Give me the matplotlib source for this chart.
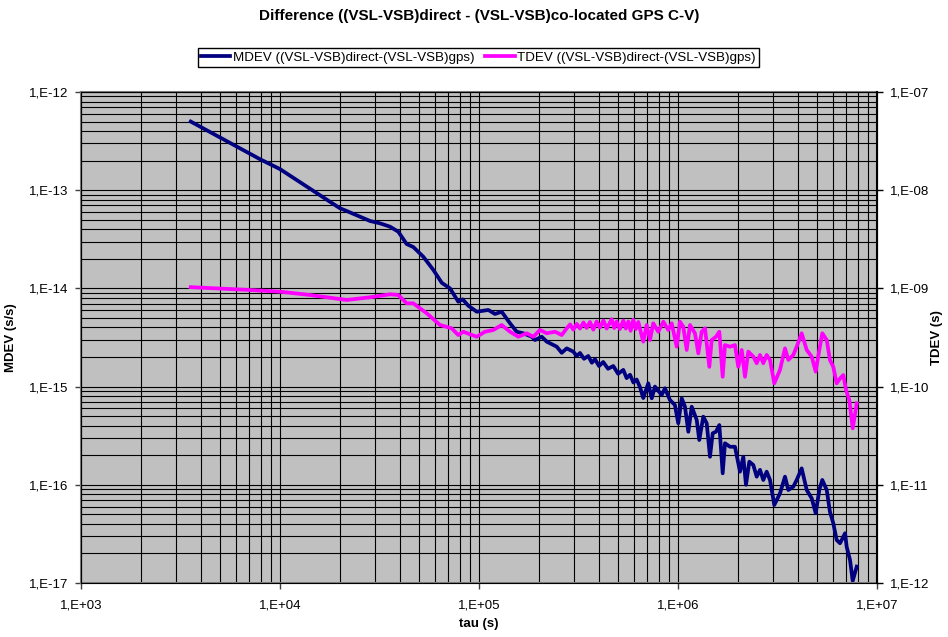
import numpy as np
import matplotlib
matplotlib.use("Agg")
import matplotlib.pyplot as plt
from matplotlib.ticker import LogLocator, FuncFormatter, NullFormatter
from matplotlib.lines import Line2D

plt.rcParams['font.family'] = ['Liberation Sans', 'DejaVu Sans']

# MDEV of the difference (tau in s, MDEV in s/s)
mdev_tau = [3560, 7930, 1.0e4, 2.0e4, 2.163e4, 2.834e4, 3.18e4, 3.572e4, 3.93e4, 4.33e4,
            4.675e4, 5.25e4, 5.90e4, 6.50e4, 7.15e4, 7.87e4, 8.28e4, 8.84e4, 9.74e4, 1.114e5,
            1.203e5, 1.30e5, 1.432e5, 1.547e5, 1.67e5, 1.84e5, 1.912e5, 2.066e5, 2.189e5, 2.458e5,
            2.604e5, 2.759e5, 2.978e5, 3.10e5, 3.217e5, 3.37e5, 3.54e5, 3.69e5, 3.827e5, 4.01e5,
            4.21e5, 4.45e5, 4.73e5, 5.00e5, 5.31e5, 5.52e5, 5.74e5, 5.97e5, 6.20e5, 6.45e5,
            6.69e5, 7.09e5, 7.38e5, 7.66e5, 8.28e5, 8.60e5, 9.11e5, 9.65e5, 1.003e6,
            1.044e6, 1.084e6, 1.127e6, 1.172e6, 1.242e6, 1.279e6, 1.340e6, 1.394e6, 1.448e6, 1.494e6,
            1.552e6, 1.613e6, 1.677e6, 1.722e6, 1.825e6, 1.933e6, 2.049e6, 2.129e6, 2.196e6, 2.282e6,
            2.39e6, 2.486e6, 2.583e6, 2.683e6, 2.79e6, 2.90e6, 3.047e6, 3.255e6, 3.449e6, 3.584e6,
            3.797e6, 3.949e6, 4.183e6, 4.434e6, 4.697e6, 4.92e6, 5.13e6, 5.31e6, 5.59e6, 5.80e6,
            6.03e6, 6.27e6, 6.52e6, 6.91e6, 7.04e6, 7.32e6, 7.55e6, 7.91e6]
mdev = [5.0e-13, 2.07e-13, 1.64e-13, 6.55e-14, 6.14e-14, 4.86e-14, 4.60e-14, 4.25e-14, 3.78e-14, 2.83e-14,
        2.64e-14, 2.10e-14, 1.54e-14, 1.14e-14, 1.0e-14, 7.32e-15, 7.74e-15, 6.66e-15, 5.79e-15, 6.03e-15,
        5.49e-15, 5.79e-15, 4.41e-15, 3.62e-15, 3.49e-15, 3.22e-15, 2.98e-15, 3.22e-15, 2.87e-15, 2.55e-15,
        2.21e-15, 2.45e-15, 2.27e-15, 2.05e-15, 2.20e-15, 1.92e-15, 2.05e-15, 1.75e-15, 1.90e-15, 1.62e-15,
        1.78e-15, 1.52e-15, 1.62e-15, 1.35e-15, 1.48e-15, 1.22e-15, 1.32e-15, 1.10e-15, 1.18e-15, 9.8e-16,
        7.65e-16, 1.08e-15, 7.60e-16, 1.0e-15, 8.21e-16, 9.61e-16, 7.30e-16, 6.50e-16, 4.23e-16,
        7.60e-16, 6.24e-16, 3.47e-16, 6.24e-16, 4.57e-16, 2.86e-16, 4.94e-16, 4.23e-16, 1.93e-16, 3.35e-16,
        3.47e-16, 4.06e-16, 1.31e-16, 2.65e-16, 2.44e-16, 2.44e-16, 1.36e-16, 1.93e-16, 1.0e-16, 1.72e-16,
        1.59e-16, 1.21e-16, 1.42e-16, 1.12e-16, 1.36e-16, 1.12e-16, 6.23e-17, 8.19e-17, 1.21e-16, 8.85e-17,
        9.57e-17, 1.12e-16, 1.47e-16, 8.85e-17, 7.29e-17, 5.13e-17, 8.85e-17, 1.12e-16, 8.85e-17, 5.32e-17,
        4.06e-17, 2.74e-17, 2.54e-17, 3.21e-17, 2.34e-17, 1.71e-17, 1.05e-17, 1.47e-17]

# TDEV of the difference (tau in s, TDEV in s)
tdev_tau = [3560, 7070, 1.0e4, 1.415e4, 2.163e4, 2.834e4, 3.572e4, 3.93e4, 4.33e4, 4.675e4,
            5.46e4, 6.37e4, 7.29e4, 7.87e4, 8.34e4, 8.94e4, 9.74e4, 1.072e5, 1.180e5, 1.30e5,
            1.432e5, 1.576e5, 1.737e5, 1.874e5, 2.026e5, 2.189e5, 2.41e5, 2.604e5, 2.759e5, 2.87e5,
            2.978e5, 3.10e5, 3.217e5, 3.35e5, 3.476e5, 3.61e5, 3.753e5, 3.90e5, 4.055e5, 4.22e5,
            4.383e5, 4.643e5, 4.78e5, 4.92e5, 5.10e5, 5.31e5, 5.47e5, 5.63e5, 5.78e5, 5.96e5,
            6.14e5, 6.32e5, 6.50e5, 6.69e5, 6.96e5, 7.23e5, 7.51e5, 7.96e5, 8.44e5, 8.94e5,
            9.30e5, 9.85e5, 1.023e6, 1.063e6, 1.106e6, 1.149e6, 1.217e6, 1.265e6, 1.315e6, 1.367e6,
            1.437e6, 1.477e6, 1.552e6, 1.613e6, 1.677e6, 1.722e6, 1.825e6, 1.933e6, 2.009e6, 2.09e6,
            2.171e6, 2.256e6, 2.39e6, 2.486e6, 2.583e6, 2.683e6, 2.79e6, 2.90e6, 3.047e6, 3.255e6,
            3.449e6, 3.584e6, 3.797e6, 3.949e6, 4.183e6, 4.434e6, 4.697e6, 4.92e6, 5.13e6, 5.31e6,
            5.59e6, 5.80e6, 6.03e6, 6.27e6, 6.52e6, 6.77e6, 6.99e6, 7.26e6, 7.55e6, 7.91e6]
tdev = [1.03e-9, 9.63e-10, 9.26e-10, 8.57e-10, 7.62e-10, 8.12e-10, 8.71e-10, 8.57e-10, 7.05e-10, 7.05e-10,
        5.58e-10, 4.24e-10, 3.92e-10, 3.35e-10, 3.62e-10, 3.43e-10, 3.22e-10, 3.62e-10, 3.77e-10, 4.24e-10,
        3.62e-10, 3.22e-10, 3.49e-10, 3.22e-10, 3.77e-10, 3.49e-10, 3.62e-10, 3.35e-10, 3.92e-10, 4.30e-10,
        3.80e-10, 4.35e-10, 3.90e-10, 4.50e-10, 3.95e-10, 4.55e-10, 3.80e-10, 4.60e-10, 4.00e-10, 4.70e-10,
        3.90e-10, 4.85e-10, 3.95e-10, 4.60e-10, 3.85e-10, 4.70e-10, 3.90e-10, 4.60e-10, 3.70e-10, 4.80e-10,
        3.85e-10, 4.55e-10, 3.60e-10, 2.87e-10, 4.24e-10, 2.98e-10, 4.41e-10, 3.62e-10, 4.58e-10, 3.77e-10,
        4.41e-10, 2.55e-10, 4.58e-10, 4.07e-10, 2.36e-10, 4.24e-10, 3.49e-10, 2.18e-10, 3.62e-10, 3.92e-10,
        1.59e-10, 2.98e-10, 3.22e-10, 3.62e-10, 1.26e-10, 2.65e-10, 2.55e-10, 2.65e-10, 1.59e-10, 2.36e-10,
        1.26e-10, 2.27e-10, 2.02e-10, 1.73e-10, 2.10e-10, 1.73e-10, 2.10e-10, 1.87e-10, 1.08e-10, 1.48e-10,
        2.45e-10, 1.87e-10, 2.10e-10, 2.55e-10, 3.49e-10, 2.36e-10, 2.02e-10, 1.42e-10, 2.36e-10, 3.49e-10,
        2.98e-10, 1.87e-10, 1.59e-10, 1.08e-10, 1.21e-10, 1.31e-10, 9.23e-11, 7.30e-11, 3.76e-11, 6.76e-11]

mdev_label = 'MDEV ((VSL-VSB)direct-(VSL-VSB)gps)'
tdev_label = 'TDEV ((VSL-VSB)direct-(VSL-VSB)gps)'
title = 'Difference ((VSL-VSB)direct - (VSL-VSB)co-located GPS C-V)'


def excel_sci(v, pos):
    return '1,E%+03d' % int(round(np.log10(v)))


fig = plt.figure(figsize=(9.48, 6.37), dpi=100)
fig.patch.set_facecolor('white')
ax = fig.add_axes([81 / 948, 1 - 583 / 637, 796 / 948, 491 / 637])
ax.set_facecolor('#C0C0C0')

ax.plot(mdev_tau, mdev, color='#000080', lw=2.7, solid_joinstyle='round')
ax.set_xscale('log')
ax.set_yscale('log')
ax.set_xlim(1e3, 1e7)
ax.set_ylim(1e-17, 1e-12)

for axis in (ax.xaxis, ax.yaxis):
    axis.set_major_locator(LogLocator(base=10, numticks=20))
    axis.set_minor_locator(LogLocator(base=10, subs=np.arange(2, 10), numticks=20))
    axis.set_major_formatter(FuncFormatter(excel_sci))
    axis.set_minor_formatter(NullFormatter())

ax.grid(True, which='both', color='black', lw=0.8)
ax.tick_params(which='major', direction='out', length=4, width=1, labelsize=9.5, color='#404040')
ax.tick_params(axis='x', which='major', pad=8)
ax.tick_params(axis='y', which='major', pad=5)
ax.tick_params(which='minor', length=0)
for s in ('left', 'bottom', 'top'):
    ax.spines[s].set_color('#808080')
    ax.spines[s].set_linewidth(1.5)

ax2 = ax.twinx()
ax2.plot(tdev_tau, tdev, color='#FF00FF', lw=2.7, solid_joinstyle='round')
ax2.set_yscale('log')
ax2.set_ylim(1e-12, 1e-7)
ax2.yaxis.set_major_locator(LogLocator(base=10, numticks=20))
ax2.yaxis.set_minor_locator(LogLocator(base=10, subs=np.arange(2, 10), numticks=20))
ax2.yaxis.set_major_formatter(FuncFormatter(excel_sci))
ax2.yaxis.set_minor_formatter(NullFormatter())
ax2.tick_params(which='major', direction='out', length=4, width=1, labelsize=9.5, pad=5)
ax2.tick_params(which='minor', length=0)
ax2.spines['right'].set_color('black')
ax2.spines['right'].set_linewidth(1.5)

ax.set_xlabel('tau (s)', fontsize=9.5, fontweight='bold')
ax.xaxis.set_label_coords(0.5, -0.072)
ax.set_ylabel('MDEV (s/s)', fontsize=9.5, fontweight='bold')
ax.yaxis.set_label_coords(-0.080, 0.5)
ax2.set_ylabel('TDEV (s)', fontsize=9.5, fontweight='bold')
ax2.yaxis.set_label_coords(1.068, 0.5)

fig.text(479 / 948, 1 - 16 / 637, title, ha='center', va='center',
         fontsize=11, fontweight='bold')

handles = [Line2D([], [], color='#000080', lw=2.7), Line2D([], [], color='#FF00FF', lw=2.7)]
leg = fig.legend(handles, [mdev_label, tdev_label], loc='center',
                 bbox_to_anchor=(478.5 / 948, 1 - 57.5 / 637), ncol=2, fontsize=9.6,
                 frameon=True, fancybox=False, framealpha=1, edgecolor='black',
                 borderpad=0.25, handlelength=2.2, handletextpad=0.2, columnspacing=0.8,
                 borderaxespad=0)
leg.get_frame().set_linewidth(1.0)

fig.savefig('out.png', dpi=100)
